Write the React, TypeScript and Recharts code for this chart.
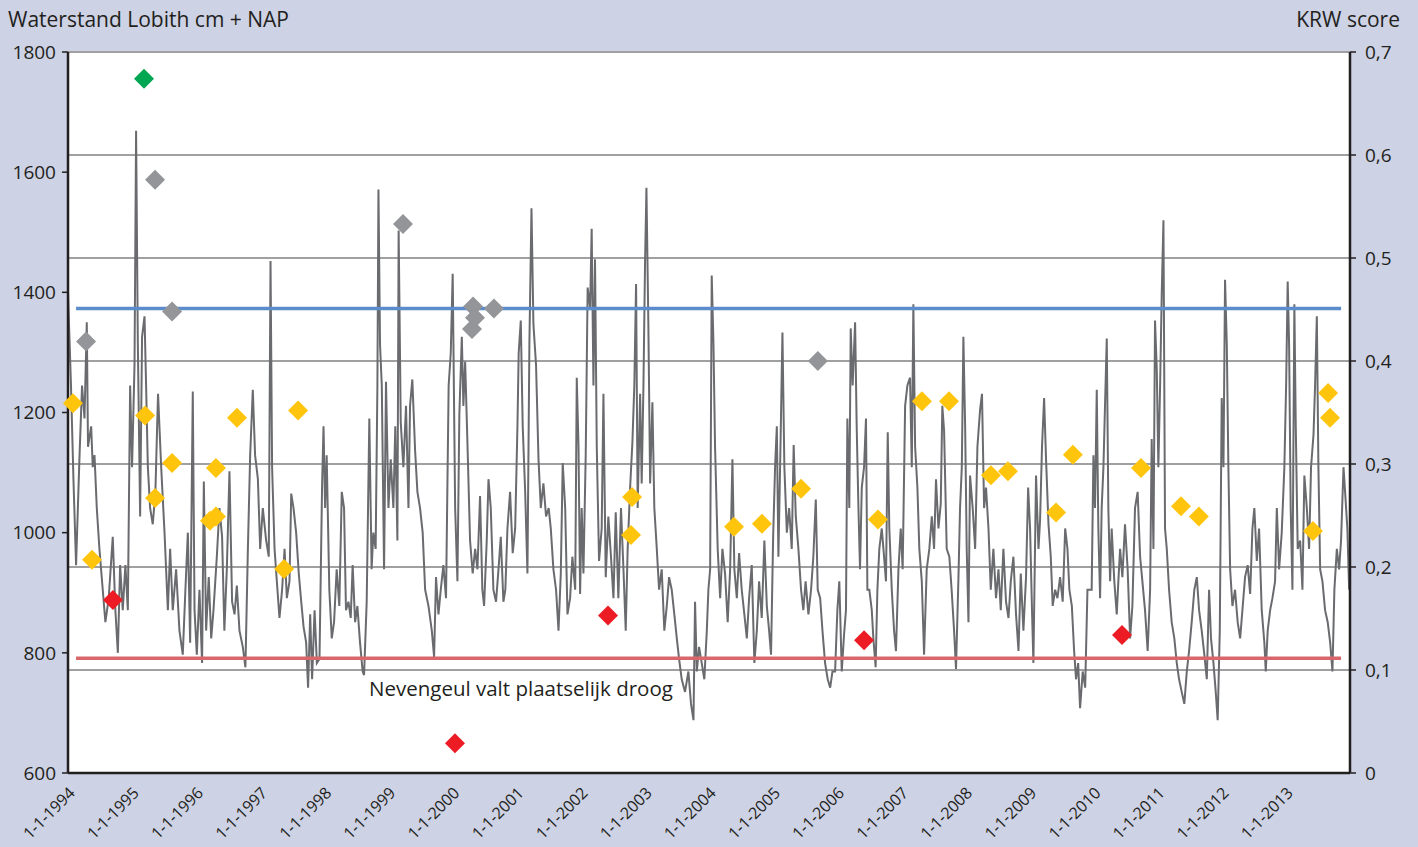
import {
  ComposedChart,
  Line,
  Scatter,
  XAxis,
  YAxis,
  CartesianGrid,
  ReferenceLine,
} from "recharts";

// water level at Lobith, [day since 1-1-1994, cm + NAP]
const level1994to1997: [number, number][] = [
  [0,1400],[17,1245],[31,1089],[46,946],[65,1122],[80,1245],[94,1190],[107,1350],[114,1143],[132,1177],[141,1109],[151,1129],[164,1041],[179,973],[198,905],[213,851],[232,891],[255,993],[270,871],[284,800],[297,946],[312,871],[327,946],[341,871],[354,1245],[365,1109],[379,1279],[388,1669],[398,1313],[411,1027],[422,1326],[436,1360],[445,1245],[455,1109],[468,1041],[483,1014],[498,1068],[513,1231],[531,1109],[550,1000],[569,871],[582,973],[597,871],[616,939],[635,837],[654,797],[669,905],[683,1000],[696,817],[711,1235],[721,871],[734,797],[749,905],[764,783],[774,1085],[787,837],[802,926],[816,824],[829,871],[848,960],[863,1041],[878,993],[891,837],[905,939],[920,1102],[935,885],[949,864],[962,912],[977,837],[996,810],[1011,776],[1025,973],[1038,1129],[1053,1238],[1066,1129],[1082,1089],[1095,973],[1110,1041],[1129,987],[1144,960],[1154,1452],[1163,1109],[1177,973],[1190,919],[1205,858],[1220,905],[1234,973],[1247,891],[1262,919],[1272,1065],[1285,1041],[1300,1000],[1315,932],[1329,885],[1342,844],[1357,817],[1368,742],[1380,864],[1391,756],[1405,871],[1418,783],[1433,790],[1448,1082],[1456,1177],
];

const level1998to2001: [number, number][] = [
  [1465,1041],[1474,1129],[1489,905],[1503,824],[1516,851],[1531,939],[1546,878],[1560,1068],[1573,1041],[1584,871],[1598,885],[1611,858],[1622,946],[1636,851],[1649,878],[1664,817],[1679,769],[1687,763],[1702,885],[1717,1190],[1730,939],[1740,1000],[1753,973],[1763,1245],[1769,1571],[1778,1313],[1788,1245],[1801,939],[1812,1251],[1826,1041],[1839,1122],[1854,1041],[1865,1177],[1877,987],[1884,1503],[1896,1184],[1911,1109],[1926,1211],[1940,1041],[1949,1211],[1962,1255],[1978,1136],[1991,1068],[2006,1041],[2021,1000],[2035,905],[2054,878],[2073,837],[2086,793],[2097,926],[2111,864],[2124,905],[2139,946],[2154,891],[2169,1245],[2181,1299],[2192,1431],[2206,1041],[2219,919],[2230,1197],[2244,1326],[2253,1211],[2263,1285],[2276,1150],[2291,987],[2306,932],[2320,973],[2333,939],[2348,1061],[2361,905],[2371,878],[2386,987],[2396,1089],[2409,1041],[2424,905],[2439,885],[2453,939],[2466,993],[2481,885],[2492,905],[2504,1007],[2519,1068],[2534,966],[2548,1007],[2561,1177],[2568,1299],[2580,1353],[2591,1177],[2605,1068],[2618,932],[2629,1313],[2641,1540],[2652,1347],[2667,1279],[2681,1122],[2694,1041],[2709,1082],[2724,1027],[2739,1041],[2751,1007],[2766,939],[2781,905],[2795,837],[2808,932],[2819,1116],[2833,1041],[2846,864],[2861,891],[2874,960],[2890,905],[2899,1258],[2909,1143],
];

const level2002to2005: [number, number][] = [
  [2918,898],[2927,1041],[2937,932],[2950,1129],[2961,1408],[2975,1374],[2984,1506],[2994,1245],[3003,1455],[3013,1143],[3026,953],[3041,1007],[3051,1231],[3064,926],[3079,1027],[3094,960],[3108,891],[3121,1034],[3136,891],[3151,1041],[3165,939],[3178,837],[3189,973],[3203,1075],[3216,1150],[3227,1245],[3237,1414],[3246,1041],[3260,1231],[3269,1082],[3279,1245],[3288,1448],[3296,1574],[3307,1347],[3317,1082],[3330,1217],[3341,1041],[3355,973],[3368,905],[3383,939],[3398,837],[3412,878],[3425,926],[3440,905],[3455,864],[3469,824],[3482,790],[3497,756],[3516,735],[3535,769],[3550,715],[3564,688],[3573,885],[3583,769],[3596,810],[3611,783],[3626,756],[3640,837],[3649,905],[3659,939],[3668,1428],[3678,1313],[3687,1143],[3702,973],[3716,891],[3729,973],[3744,932],[3759,851],[3773,939],[3786,1122],[3797,939],[3811,891],[3824,966],[3839,905],[3854,864],[3868,824],[3881,891],[3896,946],[3911,783],[3925,837],[3938,919],[3953,858],[3968,987],[3982,878],[3995,837],[4006,797],[4018,993],[4029,1109],[4039,1177],[4048,960],[4061,1163],[4071,1333],[4082,1109],[4096,1000],[4109,1041],[4124,973],[4135,1146],[4147,1027],[4162,973],[4177,905],[4190,871],[4203,919],[4219,864],[4234,905],[4247,960],[4261,1055],[4272,905],[4286,891],[4299,837],[4314,783],[4329,756],[4343,742],[4356,769],
];

const level2006to2009: [number, number][] = [
  [4371,769],[4384,871],[4395,919],[4409,769],[4422,830],[4433,871],[4441,1190],[4452,1041],[4460,1340],[4471,1245],[4485,1350],[4494,1177],[4504,1041],[4513,939],[4523,1075],[4536,1109],[4547,1190],[4555,905],[4566,905],[4580,871],[4589,824],[4602,776],[4612,905],[4623,973],[4637,1007],[4650,960],[4661,919],[4671,1167],[4680,1007],[4694,905],[4707,837],[4718,803],[4732,939],[4745,1007],[4756,939],[4770,1211],[4783,1245],[4798,1258],[4808,1109],[4817,1380],[4827,1143],[4840,1075],[4851,973],[4865,919],[4878,797],[4893,939],[4908,973],[4922,1027],[4935,973],[4946,1089],[4960,1007],[4973,1048],[4982,1211],[4992,1170],[5007,973],[5022,960],[5035,905],[5049,837],[5060,773],[5074,926],[5083,1041],[5093,1109],[5102,1326],[5112,1177],[5121,973],[5131,851],[5140,1095],[5155,1041],[5169,973],[5182,1143],[5197,1204],[5208,1231],[5220,1041],[5231,1075],[5245,1007],[5258,905],[5273,973],[5288,891],[5302,939],[5315,871],[5330,973],[5345,885],[5359,858],[5372,919],[5387,960],[5402,864],[5416,803],[5429,932],[5444,837],[5459,926],[5471,1075],[5482,1007],[5493,871],[5501,783],[5516,1095],[5530,973],[5539,1021],[5550,1143],[5562,1224],[5573,1122],[5587,1014],[5600,960],[5611,878],[5625,905],[5638,891],[5653,926],[5668,885],[5682,1007],[5695,973],[5706,905],[5720,878],[5733,803],[5744,756],[5756,783],[5767,708],[5782,769],[5796,742],[5809,905],
];

const level2010to2013: [number, number][] = [
  [5833,905],[5843,1129],[5852,1041],[5862,1238],[5871,1007],[5881,891],[5890,1041],[5900,1109],[5909,1211],[5919,1323],[5928,1041],[5938,919],[5947,1007],[5962,919],[5976,864],[5985,919],[5995,973],[6008,926],[6023,1014],[6038,939],[6052,824],[6065,878],[6080,1041],[6095,1068],[6109,960],[6122,919],[6137,871],[6152,803],[6166,905],[6175,1156],[6185,973],[6194,1353],[6204,1272],[6213,1109],[6223,1245],[6232,1394],[6242,1520],[6251,1007],[6261,973],[6274,905],[6289,851],[6304,824],[6318,783],[6331,756],[6346,735],[6361,715],[6375,769],[6388,803],[6403,851],[6418,905],[6432,926],[6445,871],[6460,837],[6475,797],[6489,756],[6502,905],[6513,824],[6527,783],[6540,735],[6551,688],[6563,837],[6574,1224],[6584,1109],[6593,1421],[6603,1313],[6612,1109],[6622,939],[6635,878],[6650,905],[6665,851],[6679,824],[6692,871],[6707,926],[6722,946],[6736,898],[6749,1007],[6760,1041],[6774,953],[6787,1007],[6802,871],[6817,817],[6825,769],[6836,837],[6850,871],[6863,891],[6878,919],[6888,1041],[6901,939],[6916,1000],[6931,1109],[6941,1245],[6950,1418],[6958,1313],[6967,1041],[6977,905],[6988,1380],[6996,1177],[7007,973],[7021,987],[7034,905],[7045,1095],[7059,1041],[7072,973],[7083,1109],[7097,1163],[7106,1245],[7116,1360],[7125,1109],[7135,939],[7148,919],[7163,871],[7178,851],[7192,817],[7205,769],[7216,905],[7230,973],[7243,939],[7254,987],[7268,1109],[7277,1068],[7290,1007],[7300,905],
];

// KRW scores, [day since 1-1-1994, score]
const krwYellow: [number, number][] = [
  [28,0.359],[137,0.207],[439,0.347],[496,0.267],[593,0.301],[809,0.245],[843,0.249],[843,0.296],[963,0.345],[1231,0.198],[1311,0.352],[3208,0.231],[3214,0.268],[3795,0.239],[3954,0.242],[4177,0.276],[4615,0.246],[4866,0.361],[5020,0.361],[5259,0.289],[5356,0.293],[5630,0.253],[5726,0.309],[6114,0.296],[6342,0.259],[6444,0.249],[7094,0.235],[7180,0.369],[7191,0.345],
];
const krwGrey: [number, number][] = [
  [103,0.419],[496,0.576],[593,0.448],[1909,0.533],[2302,0.431],[2308,0.453],[2319,0.442],[2427,0.451],[4273,0.4],
];
const krwRed: [number, number][] = [
  [256,0.168],[2205,0.029],[3077,0.153],[4536,0.129],[6006,0.134],
];
const krwGreen: [number, number][] = [[433,0.674]];

const HIGH_LEVEL = 1373;
const LOW_LEVEL = 791;
const REF_FROM = 46;
const REF_TO = 7254;

const YEARS = [1994,1995,1996,1997,1998,1999,2000,2001,2002,2003,2004,2005,2006,2007,2008,2009,2010,2011,2012,2013];
const LEVEL_TICKS = [600, 800, 1000, 1200, 1400, 1600, 1800];
const SCORE_TICKS = [0, 0.1, 0.2, 0.3, 0.4, 0.5, 0.6, 0.7];

const START = Date.UTC(1994, 0, 1);
const dayOf = (y: number) => Math.round((Date.UTC(y, 0, 1) - START) / 86400000);
const yearTicks = YEARS.map(dayOf);
const END_DAY = dayOf(2014);

const levelData = [
  ...level1994to1997,
  ...level1998to2001,
  ...level2002to2005,
  ...level2006to2009,
  ...level2010to2013,
].map(([day, cm]) => ({ day, cm }));

const toPoints = (rows: [number, number][]) =>
  rows.map(([day, score]) => ({ day, score }));

const FONT = "'Open Sans', 'DejaVu Sans', sans-serif";
const INK = "#231f20";

const tickStyle = { fill: INK, fontSize: 19, fontFamily: FONT };

function YearTick({ x, y, payload }: any) {
  const i = yearTicks.indexOf(payload.value);
  const ax = x + 8;
  const ay = y + 19;
  return (
    <text
      x={ax}
      y={ay}
      transform={`rotate(-45 ${ax} ${ay})`}
      textAnchor="end"
      fontSize={16}
      fontFamily={FONT}
      fill={INK}
    >
      {`1-1-${YEARS[i]}`}
    </text>
  );
}

const diamond = (color: string) => (props: any) => {
  const { cx, cy } = props;
  const r = 10;
  return (
    <polygon
      points={`${cx},${cy - r} ${cx + r},${cy} ${cx},${cy + r} ${cx - r},${cy}`}
      fill={color}
    />
  );
};

export default function App() {
  return (
    <div
      style={{
        position: "absolute",
        left: 0,
        top: 0,
        width: 1418,
        height: 847,
        background: "#cdd2e4",
        fontFamily: FONT,
        color: INK,
      }}
    >
      <div style={{ position: "absolute", left: 8, top: 5, fontSize: 21 }}>
        Waterstand Lobith cm + NAP
      </div>
      <div style={{ position: "absolute", right: 18, top: 5, fontSize: 21 }}>
        KRW score
      </div>
      <ComposedChart
        width={1418}
        height={847}
        data={levelData}
        margin={{ top: 52, right: 0, bottom: 0, left: 0 }}
      >
        <CartesianGrid
          yAxisId="right"
          vertical={false}
          stroke="#a0a0a0"
          strokeWidth={2}
          fill="#ffffff"
          fillOpacity={1}
        />
        <XAxis
          dataKey="day"
          type="number"
          domain={[0, END_DAY]}
          ticks={yearTicks}
          interval={0}
          height={74}
          tickSize={0}
          tickLine={false}
          axisLine={{ stroke: INK, strokeWidth: 2.5 }}
          tick={<YearTick />}
        />
        <YAxis
          yAxisId="left"
          orientation="left"
          domain={[600, 1800]}
          ticks={LEVEL_TICKS}
          width={68}
          tickSize={6}
          tickMargin={6}
          axisLine={{ stroke: INK, strokeWidth: 2.5 }}
          tickLine={{ stroke: INK, strokeWidth: 1.5 }}
          tick={tickStyle}
        />
        <YAxis
          yAxisId="right"
          orientation="right"
          domain={[0, 0.7]}
          ticks={SCORE_TICKS}
          width={68}
          tickSize={6}
          tickMargin={9}
          axisLine={{ stroke: INK, strokeWidth: 2.5 }}
          tickLine={{ stroke: INK, strokeWidth: 1.5 }}
          tick={tickStyle}
          tickFormatter={(v: number) =>
            v === 0 ? "0" : v.toFixed(1).replace(".", ",")
          }
        />
        <Line
          yAxisId="left"
          dataKey="cm"
          type="linear"
          stroke="#6a6b6e"
          strokeWidth={2}
          dot={false}
          isAnimationActive={false}
        />
        <ReferenceLine
          yAxisId="left"
          segment={[
            { x: REF_FROM, y: HIGH_LEVEL },
            { x: REF_TO, y: HIGH_LEVEL },
          ]}
          stroke="#5b8ccb"
          strokeWidth={3.5}
        />
        <ReferenceLine
          yAxisId="left"
          segment={[
            { x: REF_FROM, y: LOW_LEVEL },
            { x: REF_TO, y: LOW_LEVEL },
          ]}
          stroke="#d9666a"
          strokeWidth={3.5}
        />
        <Scatter
          yAxisId="right"
          data={toPoints(krwGrey)}
          dataKey="score"
          shape={diamond("#939598")}
          isAnimationActive={false}
        />
        <Scatter
          yAxisId="right"
          data={toPoints(krwYellow)}
          dataKey="score"
          shape={diamond("#ffc50d")}
          isAnimationActive={false}
        />
        <Scatter
          yAxisId="right"
          data={toPoints(krwRed)}
          dataKey="score"
          shape={diamond("#ed1c24")}
          isAnimationActive={false}
        />
        <Scatter
          yAxisId="right"
          data={toPoints(krwGreen)}
          dataKey="score"
          shape={diamond("#00a651")}
          isAnimationActive={false}
        />
      </ComposedChart>
      <div
        style={{
          position: "absolute",
          left: 369,
          top: 674,
          fontSize: 20.5,
          lineHeight: "28px",
          whiteSpace: "nowrap",
        }}
      >
        Nevengeul valt plaatselijk droog
      </div>
    </div>
  );
}
